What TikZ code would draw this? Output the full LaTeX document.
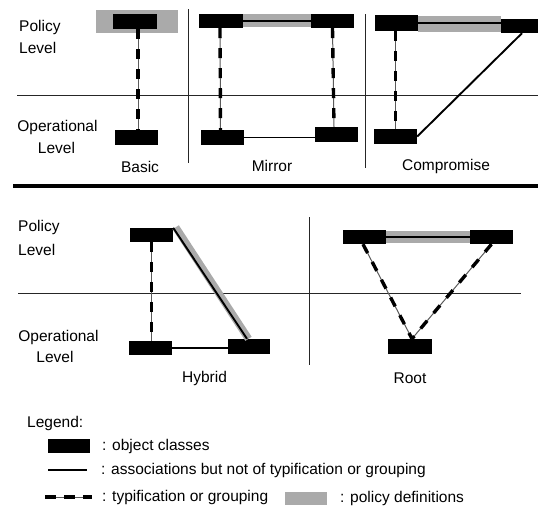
\documentclass[tikz,border=0pt]{standalone}
\usepackage{fontspec}
\setmainfont{Liberation Sans}
\usetikzlibrary{calc}
\definecolor{policygray}{RGB}{170,170,170}
\definecolor{linkgray}{RGB}{90,90,90}
\tikzset{
  cls/.style={fill=black, draw=none, inner sep=0pt, minimum width=43pt, minimum height=15pt},
  assoc/.style={line width=1.9pt, black},
  levelline/.style={line width=1pt, black!85},
  sepline/.style={line width=1pt, black!85},
  policyband/.style={fill=policygray, draw=none},
  policystroke/.style={line width=7.5pt, policygray},
  typeline/.style={line width=1pt, linkgray},
  typedash/.style={line width=3.4pt, black, dash pattern=on 10pt off 10pt},
  lbl/.style={font=\fontsize{15.5}{18}\selectfont, inner sep=0pt},
}
\newcommand{\typif}[2]{%
  \draw[typeline] #1 -- #2;
  \draw[typedash] #1 -- #2;}
\begin{document}
\begin{tikzpicture}[x=1pt, y=-1pt]
\useasboundingbox (0,0) rectangle (538,509);

% ---------- upper row: level divider and panel separators ----------
\coordinate (l1a) at (17,95);   \coordinate (l1b) at (538,95);
\draw[levelline] (l1a) -- (l1b);
\coordinate (s1a) at (188,9);   \coordinate (s1b) at (188,163);
\draw[sepline] (s1a) -- (s1b);
\coordinate (s2a) at (365,14);  \coordinate (s2b) at (365,168);
\draw[sepline] (s2a) -- (s2b);

\node[lbl, anchor=west] (pol1) at (19,27) {Policy};
\node[lbl, anchor=west] (lev1) at (19,48) {Level};
\node[lbl] (op1) at (57.5,127) {Operational};
\node[lbl] (lev2) at (56.5,148) {Level};

% Basic
\fill[policyband] (96,10) rectangle (178,33);
\node[cls, minimum width=44pt] (ba) at (135,21.5) {};
\node[cls] (bb) at (136.5,137.5) {};
\typif{([xshift=3pt]ba.south)}{([xshift=1.5pt]bb.north)}
\node[lbl] (tbasic) at (140,167) {Basic};

% Mirror
\node[cls, minimum width=44pt, minimum height=14pt] (ma) at (221,21) {};
\node[cls, minimum height=14pt] (mb) at (332.5,21) {};
\fill[policyband] (ma.north east) rectangle ([yshift=1.5pt]mb.south west);
\draw[assoc] (ma.east) -- (mb.west);
\node[cls] (mc) at (222.5,137.5) {};
\node[cls] (md) at (336.5,134.5) {};
\draw[assoc] (mc.east) -- (mc.east -| md.west);
\typif{([xshift=-1pt]ma.south)}{([xshift=-2pt]mc.north)}
\typif{(mb.south)}{([xshift=-2.5pt]md.north)}
\node[lbl] (tmirror) at (272,166) {Mirror};

% Compromise
\node[cls, minimum height=16pt] (ca) at (396.5,23) {};
\node[cls, minimum width=37pt, minimum height=14pt] (cb) at (519.5,26) {};
\fill[policyband] (418,16) rectangle (501,32);
\draw[assoc] (ca.east) -- (ca.east -| cb.west);
\node[cls] (cc) at (395.5,136.5) {};
\typif{([xshift=-1pt]ca.south)}{(cc.north)}
\draw[assoc] (cc.east) -- ([xshift=2.5pt]cb.south);
\node[lbl] (tcomp) at (446,166) {Compromise};

% ---------- thick divider ----------
\coordinate (t1) at (13,186);  \coordinate (t2) at (538,186);
\draw[line width=4pt] (t1) -- (t2);

% ---------- lower row ----------
\coordinate (l2a) at (18,293);  \coordinate (l2b) at (521,293);
\draw[levelline] (l2a) -- (l2b);
\coordinate (s3a) at (309,217); \coordinate (s3b) at (309,365);
\draw[sepline] (s3a) -- (s3b);

\node[lbl, anchor=west] (pol2) at (18,227) {Policy};
\node[lbl, anchor=west] (lev3) at (18,250) {Level};
\node[lbl] (op2) at (58.5,337) {Operational};
\node[lbl] (lev4) at (55,357) {Level};

% Hybrid
\node[cls, minimum height=14pt] (ha) at (151.5,235) {};
\node[cls, minimum height=14pt] (hb) at (150.5,348) {};
\node[cls, minimum width=42pt] (hc) at (249,346.5) {};
\draw[policystroke] ([xshift=2.5pt,yshift=0.5pt]ha.north east) -- ([xshift=-0.5pt]hc.north);
\draw[assoc] (ha.north east) -- ([xshift=-2pt]hc.north);
\draw[assoc] (hb.east) -- (hb.east -| hc.west);
\typif{(ha.south)}{([xshift=1pt]hb.north)}
\node[lbl] (thybrid) at (204.5,378) {Hybrid};

% Root
\node[cls, minimum height=14pt] (ra) at (364.5,237) {};
\node[cls, minimum height=14pt] (rb) at (491.5,237) {};
\fill[policyband] ([yshift=-1pt]ra.north east) rectangle ([yshift=1pt]rb.south west);
\draw[assoc] (ra.east) -- (rb.west);
\node[cls, minimum width=44pt] (rc) at (410,346.5) {};
\typif{([xshift=-1.5pt]ra.south)}{([xshift=2pt]rc.north)}
\typif{(rb.south)}{([xshift=2pt]rc.north)}
\node[lbl] (troot) at (410,378) {Root};

% ---------- legend ----------
\node[lbl, anchor=west] (leg) at (27,423) {Legend:};
\node[cls, minimum width=42pt, minimum height=14pt] (kcls) at (69,446) {};
\node[lbl, anchor=west] (kclst) at (102,446) {: object classes};
\coordinate (ka1) at (48,470); \coordinate (ka2) at (87,470);
\draw[assoc] (ka1) -- (ka2);
\node[lbl, anchor=west] (kasst) at (101,470) {: associations but not of typification or grouping};
\coordinate (kt1) at (45,497); \coordinate (kt2) at (92,497);
\draw[typeline] (kt1) -- (kt2);
\draw[line width=3.4pt, dash pattern=on 11pt off 8pt] (kt1) -- (kt2);
\node[lbl, anchor=west] (ktypt) at (102,497) {: typification or grouping};
\node[policyband, minimum width=42pt, minimum height=13pt, inner sep=0pt] (kpol) at (306,498.5) {};
\node[lbl, anchor=west] (kpolt) at (340,498) {: policy definitions};
\end{tikzpicture}
\end{document}
